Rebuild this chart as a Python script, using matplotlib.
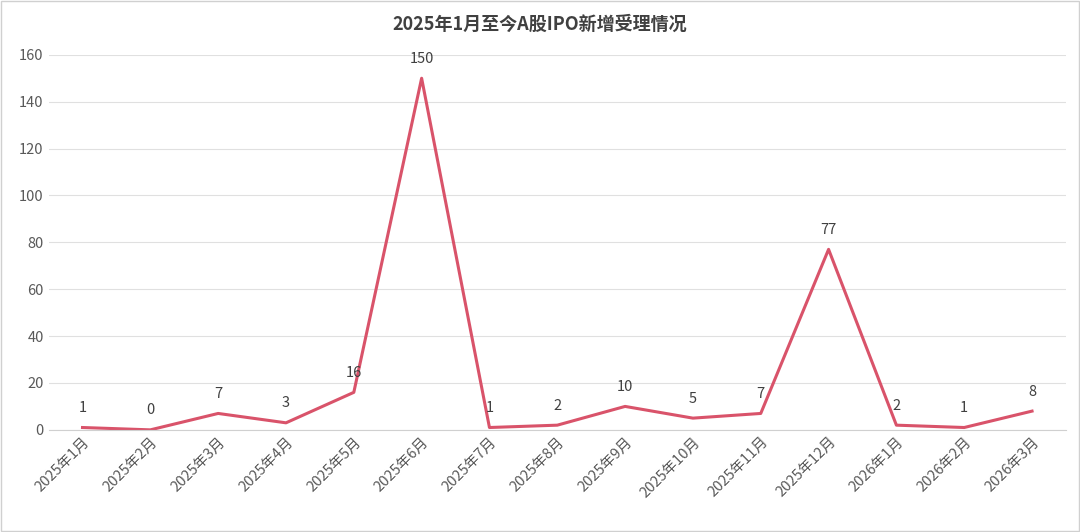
import matplotlib.pyplot as plt

plt.rcParams['font.family'] = ['Noto Sans CJK SC', 'DejaVu Sans']

months = ["2025年1月", "2025年2月", "2025年3月", "2025年4月", "2025年5月", "2025年6月",
          "2025年7月", "2025年8月", "2025年9月", "2025年10月", "2025年11月", "2025年12月",
          "2026年1月", "2026年2月", "2026年3月"]
counts = [1, 0, 7, 3, 16, 150, 1, 2, 10, 5, 7, 77, 2, 1, 8]

fig = plt.figure(figsize=(10.8, 5.32), dpi=100)
ax = fig.add_axes([0.045, 0.192, 0.942, 0.705])
fig.patches.append(plt.Rectangle((0.001, 0.001), 0.998, 0.998, transform=fig.transFigure,
                                 fill=False, edgecolor='#d0d0d0', linewidth=1))

x = list(range(len(months)))
ax.plot(x, counts, color='#d9536a', linewidth=2.2)
for i, v in enumerate(counts):
    ax.annotate(str(v), (i, v), textcoords='offset points', xytext=(0, 9),
                ha='center', va='bottom', fontsize=10.5, color='#404040')

ax.set_xlim(-0.5, len(months) - 0.5)
ax.set_ylim(0, 160)
ax.set_yticks(range(0, 161, 20))
ax.set_xticks(x)
ax.set_xticklabels(months, rotation=45, ha='right', rotation_mode='anchor', fontsize=10.5, color='#595959')
ax.tick_params(axis='y', labelsize=10.5, labelcolor='#595959', length=0)
ax.tick_params(axis='x', length=0)
ax.grid(axis='y', color='#e0e0e0', linewidth=0.8)
ax.set_axisbelow(True)
for s in ['top', 'right', 'left']:
    ax.spines[s].set_visible(False)
ax.spines['bottom'].set_color('#d0d0d0')

fig.text(0.5, 0.955, "2025年1月至今A股IPO新增受理情况", ha='center', va='center',
         fontsize=13, fontweight='bold', color='#404040')

fig.savefig('out.png', dpi=100)
